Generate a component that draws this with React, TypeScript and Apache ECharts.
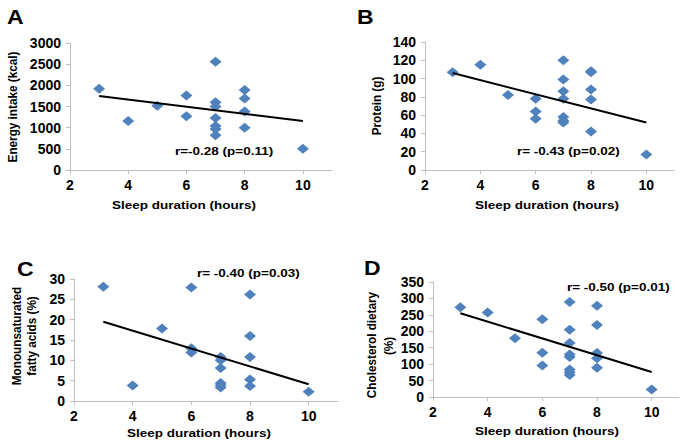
import React, { useEffect, useRef } from "react";
import * as echarts from "echarts";

const sleepA = [3, 4, 5, 6, 6, 7, 7, 7, 7, 7, 7, 7, 8, 8, 8, 8, 10];
const energy = [1920, 1160, 1520, 1760, 1270, 2560, 1600, 1500, 1230, 1040, 970, 820, 1890, 1690, 1380, 1000, 500];

const sleepB = [3, 4, 5, 6, 6, 6, 7, 7, 7, 7, 7, 7, 7, 8, 8, 8, 8, 8, 10];
const protein = [107, 115, 82, 78, 64, 56, 120, 99, 86, 78, 58, 54, 52, 108, 107, 88, 77, 42, 17];

const sleepC = [3, 4, 5, 6, 6, 6, 7, 7, 7, 7, 7, 7, 8, 8, 8, 8, 8, 10];
const mufa = [28.1, 3.8, 17.8, 27.9, 13.0, 11.9, 10.8, 10.0, 8.1, 4.4, 3.9, 3.3, 26.2, 16.0, 10.8, 5.3, 3.7, 2.3];

const sleepD = [3, 4, 5, 6, 6, 6, 7, 7, 7, 7, 7, 7, 7, 7, 8, 8, 8, 8, 8, 10];
const chol = [273, 257, 179, 237, 135, 96, 289, 205, 164, 129, 122, 84, 75, 67, 278, 219, 134, 118, 89, 23];

const trendX = [3, 10];
const trendA = [1750, 1160];
const trendB = [106, 52];
const trendC = [19.5, 4.1];
const trendD = [255, 76];

const yMax = [3000, 140, 30, 350];
const yStep = [500, 20, 5, 50];

const panelLetters = ["A", "B", "C", "D"];
const annotations = ["r=-0.28 (p=0.11)", "r= -0.43 (p=0.02)", "r= -0.40 (p=0.03)", "r= -0.50 (p=0.01)"];
const xTitle = "Sleep duration (hours)";

const FONT = "'Liberation Sans', Arial, sans-serif";
const BLUE = "#4F81BD";
const AXIS = "#BFBFBF";

const zip = (xs: number[], ys: number[]) => xs.map((x, i) => [x, ys[i]]);

export default function App() {
  const ref = useRef<HTMLDivElement>(null);
  useEffect(() => {
    const chart = echarts.init(ref.current!, null, { renderer: "svg" });
    const grids = [
      { left: 70, top: 43, width: 262, height: 127 },
      { left: 425, top: 42, width: 249, height: 128 },
      { left: 74, top: 279, width: 264, height: 122 },
      { left: 433, top: 282, width: 246, height: 115 },
    ];
    const tickLabel = { color: "#000", fontFamily: FONT, fontWeight: "bold" as const, fontSize: 14 };
    const xAxes = grids.map((_, i) => ({
      type: "value" as const,
      gridIndex: i,
      min: 2,
      max: 11,
      interval: 2,
      splitLine: { show: false },
      axisLine: { lineStyle: { color: AXIS, width: 1 } },
      axisTick: { show: true, length: 4, lineStyle: { color: AXIS } },
      axisLabel: { ...tickLabel, margin: 8, showMaxLabel: false, formatter: (v: number) => (v > 10 ? "" : String(v)) },
    }));
    const yAxes = grids.map((_, i) => ({
      type: "value" as const,
      gridIndex: i,
      min: 0,
      max: yMax[i],
      interval: yStep[i],
      splitLine: { show: false },
      axisLine: { show: true, lineStyle: { color: AXIS, width: 1 } },
      axisTick: { show: true, length: 4, lineStyle: { color: AXIS } },
      axisLabel: { ...tickLabel, margin: 9, formatter: (v: number) => String(v) },
    }));
    const scatterData = [zip(sleepA, energy), zip(sleepB, protein), zip(sleepC, mufa), zip(sleepD, chol)];
    const trends = [trendA, trendB, trendC, trendD];
    const series: any[] = [];
    scatterData.forEach((d, i) => {
      series.push({
        type: "scatter",
        xAxisIndex: i,
        yAxisIndex: i,
        data: d,
        symbol: "diamond",
        symbolSize: [12, 10],
        itemStyle: { color: BLUE, opacity: 1 },
        z: 2,
      });
      series.push({
        type: "line",
        xAxisIndex: i,
        yAxisIndex: i,
        data: zip(trendX, trends[i]),
        symbol: "none",
        lineStyle: { color: "#000", width: 2 },
        z: 3,
      });
    });
    // The reference figure is stretched horizontally (~1.15x), so texts are squeezed vertically.
    const SQ = 0.87;
    const txt = (x: number, y: number, text: string, size: number, align = "left", rotation = 0) => ({
      type: "text",
      x,
      y,
      rotation,
      scaleX: rotation ? SQ : 1,
      scaleY: rotation ? 1 : SQ,
      style: {
        text,
        fill: "#000",
        fontFamily: FONT,
        fontWeight: "bold",
        fontSize: size,
        align,
        verticalAlign: "middle",
      },
      z: 10,
    });
    const R = Math.PI / 2;
    const RS = 13.5;
    const graphic = [
      txt(7, 17, panelLetters[0], 23),
      txt(357, 17, panelLetters[1], 23),
      txt(17, 269, panelLetters[2], 23),
      txt(364, 268, panelLetters[3], 23),
      txt(175, 151, annotations[0], 13.5),
      txt(517, 151, annotations[1], 13.5),
      txt(197, 273, annotations[2], 13.5),
      txt(567, 287, annotations[3], 13.5),
      txt(184, 205, xTitle, 13.5, "center"),
      txt(547, 205, xTitle, 13.5, "center"),
      txt(199, 433, xTitle, 13.5, "center"),
      txt(547, 431, xTitle, 13.5, "center"),
      txt(13, 107, "Energy intake (kcal)", RS, "center", R),
      txt(377, 106, "Protein (g)", RS, "center", R),
      txt(17, 336, "Monounsaturated", RS, "center", R),
      txt(32, 336, "fatty acids (%)", RS, "center", R),
      txt(372, 345, "Cholesterol dietary", RS, "center", R),
      txt(389, 346, "(%)", RS, "center", R),
    ];
    chart.setOption({
      animation: false,
      backgroundColor: "#fff",
      grid: grids,
      xAxis: xAxes,
      yAxis: yAxes,
      series,
      graphic,
    });
    return () => chart.dispose();
  }, []);
  return (
    <div
      ref={ref}
      style={{ position: "fixed", left: 0, top: 0, width: 685, height: 448, background: "#fff" }}
    />
  );
}
